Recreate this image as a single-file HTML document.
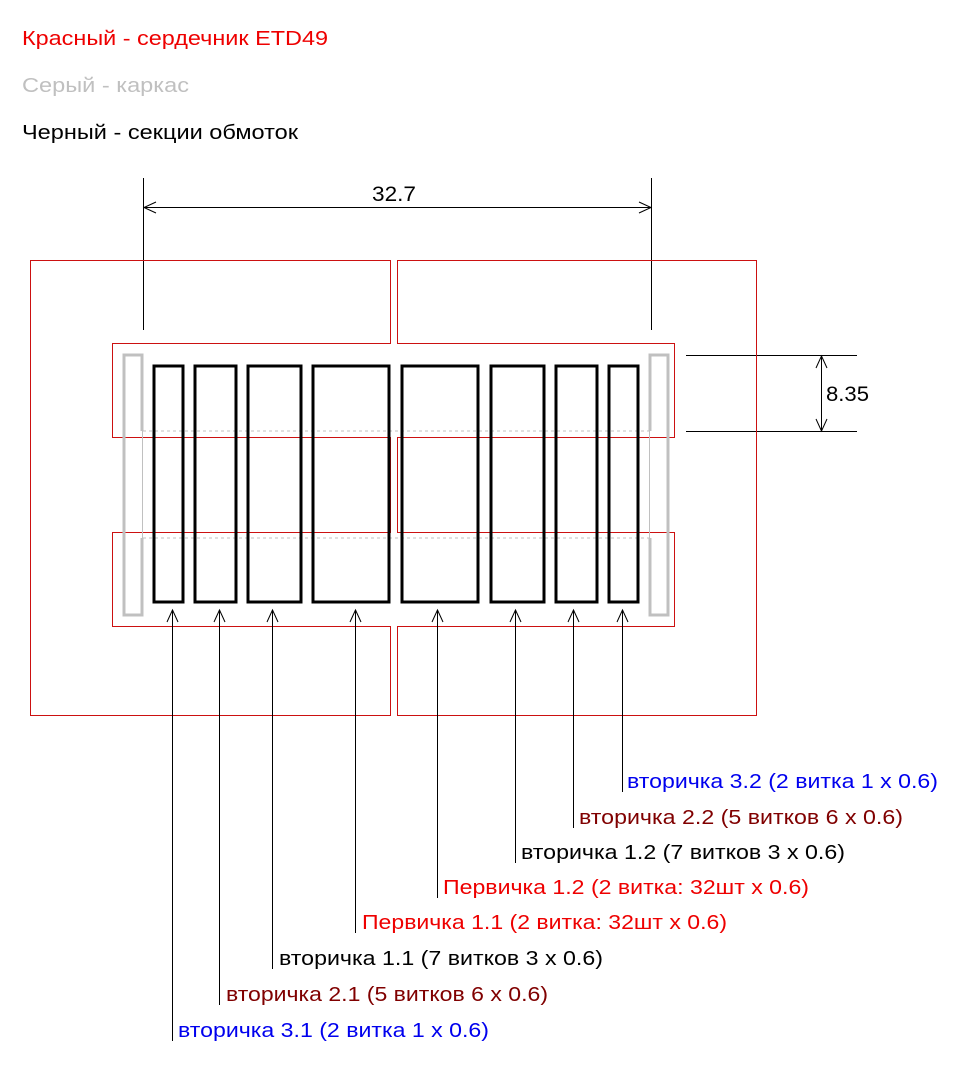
<!DOCTYPE html>
<html><head><meta charset="utf-8"><style>
html,body{margin:0;padding:0;background:#fff;width:967px;height:1066px;overflow:hidden}
svg{display:block}
text{font-family:"Liberation Sans",Arial,sans-serif;font-size:20px}
</style></head><body>
<svg width="967" height="1066" viewBox="0 0 967 1066" xmlns="http://www.w3.org/2000/svg">
<text x="22" y="45" fill="#ee0000" textLength="306" lengthAdjust="spacingAndGlyphs">Красный - сердечник ETD49</text>
<text x="22" y="92" fill="#c0c0c0" textLength="167" lengthAdjust="spacingAndGlyphs">Серый - каркас</text>
<text x="22" y="139" fill="#000" textLength="276" lengthAdjust="spacingAndGlyphs">Черный - секции обмоток</text>

<g stroke="#000" stroke-width="1" fill="none">
<line x1="143.5" y1="178" x2="143.5" y2="330"/>
<line x1="651.5" y1="178" x2="651.5" y2="330"/>
<line x1="143.5" y1="207.5" x2="651.5" y2="207.5"/>
<polyline points="156,202 144,207.5 156,213"/>
<polyline points="639,202 651,207.5 639,213"/>
<line x1="686" y1="355.5" x2="857" y2="355.5"/>
<line x1="686" y1="431.5" x2="857" y2="431.5"/>
<line x1="821.5" y1="355.5" x2="821.5" y2="431.5"/>
<polyline points="816,368 821.5,356 827,368"/>
<polyline points="816,419 821.5,431 827,419"/>
</g>
<text x="372" y="201" fill="#000" style="font-size:21px" textLength="44" lengthAdjust="spacingAndGlyphs">32.7</text>
<text x="826" y="401" fill="#000" style="font-size:21px" textLength="43" lengthAdjust="spacingAndGlyphs">8.35</text>

<g stroke="#cc1111" stroke-width="1" fill="none">
<polygon points="30.5,260.5 390.5,260.5 390.5,343.5 112.5,343.5 112.5,437.5 390.5,437.5 390.5,532.5 112.5,532.5 112.5,626.5 390.5,626.5 390.5,715.5 30.5,715.5"/>
<polygon points="397.5,260.5 756.5,260.5 756.5,715.5 397.5,715.5 397.5,626.5 674.5,626.5 674.5,532.5 397.5,532.5 397.5,437.5 674.5,437.5 674.5,343.5 397.5,343.5"/>
</g>

<g stroke="#c0c0c0" fill="none">
<line x1="143" y1="431" x2="650" y2="431" stroke-width="1" stroke-dasharray="3,3"/>
<line x1="143" y1="538" x2="650" y2="538" stroke-width="1" stroke-dasharray="3,3"/>
<path d="M142,431 L142,355 L124,355 L124,615 L142,615 L142,538" stroke-width="3"/>
<line x1="142.5" y1="431" x2="142.5" y2="538" stroke-width="1"/>
<path d="M650,431 L650,355 L668,355 L668,615 L650,615 L650,538" stroke-width="3"/>
<line x1="649.5" y1="431" x2="649.5" y2="538" stroke-width="1"/>
</g>

<g stroke="#000" stroke-width="3" fill="none">
<rect x="154" y="366" width="29" height="236"/>
<rect x="195" y="366" width="41" height="236"/>
<rect x="248" y="366" width="53" height="236"/>
<rect x="313" y="366" width="76" height="236"/>
<rect x="402" y="366" width="76" height="236"/>
<rect x="491" y="366" width="53" height="236"/>
<rect x="556" y="366" width="41" height="236"/>
<rect x="609" y="366" width="29" height="236"/>
</g>

<g stroke="#000" stroke-width="1" fill="none">
<line x1="172.5" y1="610" x2="172.5" y2="1041"/><polyline points="167,622 172.5,610 178,622"/>
<line x1="219.5" y1="610" x2="219.5" y2="1005"/><polyline points="214,622 219.5,610 225,622"/>
<line x1="272.5" y1="610" x2="272.5" y2="969"/><polyline points="267,622 272.5,610 278,622"/>
<line x1="355.5" y1="610" x2="355.5" y2="933"/><polyline points="350,622 355.5,610 361,622"/>
<line x1="437.5" y1="610" x2="437.5" y2="898"/><polyline points="432,622 437.5,610 443,622"/>
<line x1="515.5" y1="610" x2="515.5" y2="863"/><polyline points="510,622 515.5,610 521,622"/>
<line x1="573.5" y1="610" x2="573.5" y2="828"/><polyline points="568,622 573.5,610 579,622"/>
<line x1="622.5" y1="610" x2="622.5" y2="792"/><polyline points="617,622 622.5,610 628,622"/>
</g>

<text x="627" y="788" fill="#0000ee" textLength="311" lengthAdjust="spacingAndGlyphs">вторичка 3.2 (2 витка 1 x 0.6)</text>
<text x="579" y="824" fill="#800000" textLength="324" lengthAdjust="spacingAndGlyphs">вторичка 2.2 (5 витков 6 x 0.6)</text>
<text x="521" y="859" fill="#000" textLength="324" lengthAdjust="spacingAndGlyphs">вторичка 1.2 (7 витков 3 x 0.6)</text>
<text x="443" y="894" fill="#ee0000" textLength="366" lengthAdjust="spacingAndGlyphs">Первичка 1.2 (2 витка: 32шт x 0.6)</text>
<text x="362" y="929" fill="#ee0000" textLength="365" lengthAdjust="spacingAndGlyphs">Первичка 1.1 (2 витка: 32шт x 0.6)</text>
<text x="279" y="965" fill="#000" textLength="324" lengthAdjust="spacingAndGlyphs">вторичка 1.1 (7 витков 3 x 0.6)</text>
<text x="226" y="1001" fill="#800000" textLength="322" lengthAdjust="spacingAndGlyphs">вторичка 2.1 (5 витков 6 x 0.6)</text>
<text x="178" y="1037" fill="#0000ee" textLength="311" lengthAdjust="spacingAndGlyphs">вторичка 3.1 (2 витка 1 x 0.6)</text>
</svg>
</body></html>
